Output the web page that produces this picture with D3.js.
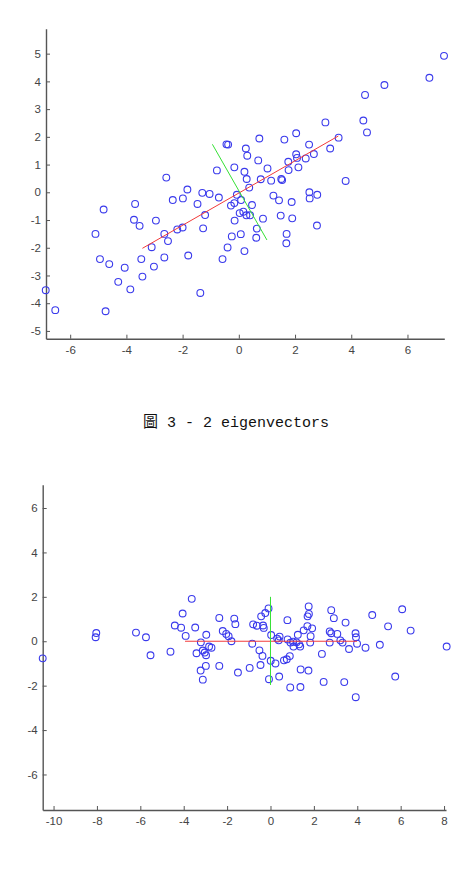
<!DOCTYPE html>
<html>
<head>
<meta charset="utf-8">
<script src="https://cdn.jsdelivr.net/npm/d3@7"></script>
<style>
  html, body { margin: 0; padding: 0; background: #fff; }
  svg { display: block; }
  .axis text { fill: #444; }
  .axis path, .axis line { stroke: #555; }
</style>
</head>
<body>
<div id="chart"></div>
<script>
// ---- Data ----
// top panel: original samples
const origPoints = [
  [7.30,4.92],[6.78,4.13],[5.18,3.87],[4.49,3.51],[3.08,2.52],[4.43,2.59],[4.56,2.16],[3.55,1.97],
  [3.25,1.58],[2.04,2.13],[1.62,1.90],[0.73,1.94],[-0.44,1.73],[-0.38,1.72],[0.25,1.58],[0.30,1.32],
  [0.69,1.15],[2.04,1.37],[2.07,1.24],[1.76,1.10],[2.38,1.22],[2.67,1.38],[2.50,1.72],[2.12,0.90],
  [1.77,0.80],[-0.78,0.79],[-0.16,0.90],[0.20,0.74],[1.02,0.86],[0.28,0.48],[0.78,0.47],[1.15,0.42],
  [1.51,0.48],[1.54,0.44],[3.80,0.41],[0.37,0.17],[-1.83,0.10],[-2.35,-0.28],[-1.99,-0.22],[-1.47,-0.42],
  [-1.30,-0.02],[-1.04,-0.06],[-0.71,-0.19],[-0.07,-0.09],[0.08,-0.28],[-0.28,-0.48],[-0.16,-0.39],[1.23,-0.12],
  [1.43,-0.29],[1.88,-0.35],[2.51,0.00],[2.79,-0.09],[2.52,-0.22],[0.47,-0.46],[0.03,-0.75],[0.16,-0.70],
  [0.27,-0.83],[0.40,-0.83],[-1.20,-0.82],[-0.15,-1.02],[0.86,-0.95],[1.49,-0.84],[1.90,-0.94],[-2.19,-1.34],
  [-2.00,-1.27],[-1.27,-1.30],[0.64,-1.31],[2.78,-1.20],[-0.25,-1.59],[0.07,-1.51],[0.62,-1.64],[1.70,-1.50],
  [1.69,-1.84],[-0.40,-1.99],[0.20,-2.12],[-1.80,-2.28],[-0.58,-2.41],[-2.58,0.53],[-4.81,-0.62],[-3.69,-0.42],
  [-3.73,-0.99],[-3.53,-1.21],[-2.95,-1.02],[-5.10,-1.50],[-2.65,-1.50],[-2.52,-1.76],[-3.10,-1.98],[-4.94,-2.41],
  [-4.61,-2.59],[-3.47,-2.41],[-2.65,-2.35],[-4.06,-2.72],[-3.02,-2.68],[-3.43,-3.04],[-4.29,-3.23],[-3.86,-3.50],
  [-6.87,-3.53],[-6.53,-4.25],[-4.74,-4.29],[-1.37,-3.63]
];
const origRed = [[-3.43,-2.02],[3.54,2.03]];
const origGreen = [[-0.94,1.73],[1.00,-1.72]];

// bottom panel: samples in eigenvector coordinates
const projPoints = [
  [-10.50,-0.77],[-8.03,0.37],[-8.06,0.18],[-6.20,0.39],[-5.74,0.18],[-5.53,-0.63],[-4.61,-0.47],[-3.63,1.91],
  [-4.05,1.25],[-4.41,0.71],[-4.12,0.61],[-3.47,0.62],[-3.91,0.24],[-2.96,0.29],[-2.36,1.05],[-2.20,0.46],
  [-2.04,0.33],[-1.93,0.23],[-1.67,1.02],[-1.62,0.77],[-1.80,0.00],[-0.84,-0.11],[-0.80,0.76],[-0.63,0.70],
  [-0.34,0.71],[-0.31,0.60],[-0.43,1.12],[-0.24,1.27],[-0.09,1.48],[-3.21,-0.05],[-3.12,-0.42],[-3.03,-0.51],
  [-2.83,-0.24],[-2.72,-0.29],[-3.41,-0.54],[-2.97,-0.63],[-2.98,-1.11],[-3.22,-1.32],[-3.12,-1.73],[-2.36,-1.11],
  [-1.50,-1.41],[-0.96,-1.20],[-0.51,-0.41],[-0.37,-0.66],[-0.46,-1.07],[0.01,-0.88],[0.23,-1.00],[-0.07,-1.71],
  [0.03,0.28],[0.31,0.12],[0.38,0.04],[0.42,0.21],[0.40,-1.59],[0.62,-0.86],[0.75,-0.81],[0.89,-0.67],
  [0.78,0.95],[0.79,0.08],[0.92,-0.06],[1.04,-0.02],[1.20,-0.05],[1.32,-0.14],[1.26,0.29],[1.53,0.49],
  [1.70,0.68],[1.71,1.12],[1.77,1.23],[1.76,1.57],[1.92,0.58],[1.85,0.23],[1.83,-0.06],[1.37,-0.24],
  [1.06,-0.24],[0.91,-2.08],[1.38,-2.06],[1.39,-1.27],[1.75,-1.32],[2.37,-0.57],[2.45,-1.83],[2.73,0.44],
  [2.80,0.36],[3.08,0.33],[2.73,-0.06],[2.80,1.40],[2.92,1.04],[3.22,0.04],[3.32,-0.06],[3.46,0.84],
  [3.62,-0.35],[3.40,-1.84],[3.92,0.36],[3.94,0.18],[3.99,-0.11],[3.93,-2.52],[4.38,-0.29],[4.69,1.18],
  [5.04,-0.16],[5.42,0.67],[5.75,-1.59],[6.07,1.44],[6.46,0.48],[8.12,-0.24]
];
const projRed = [[-3.94,0.0],[3.99,0.0]];
const projGreen = [[0.0,2.0],[0.0,-1.97]];

const topXDomain = [-6.86, 7.31], topYDomain = [-5.28, 5.9];
const topXTicks = [-6, -4, -2, 0, 2, 4, 6];
const topYTicks = [-5, -4, -3, -2, -1, 0, 1, 2, 3, 4, 5];
const botXDomain = [-10.5, 8.09], botYDomain = [-7.6, 7.05];
const botXTicks = [-10, -8, -6, -4, -2, 0, 2, 4, 6, 8];
const botYTicks = [-6, -4, -2, 0, 2, 4, 6];

const caption = "圖 3 - 2 eigenvectors";

// ---- Drawing ----
const svg = d3.select("#chart").append("svg")
  .attr("width", 457).attr("height", 872);

function panel(box, xDom, yDom, xTicks, yTicks, pts, red, green) {
  const x = d3.scaleLinear().domain(xDom).range([box.left, box.right]);
  const y = d3.scaleLinear().domain(yDom).range([box.bottom, box.top]);
  const g = svg.append("g");

  const font = g => g.attr("font-family", "'Liberation Sans', Arial, sans-serif")
    .attr("font-size", 11.5);

  // MATLAB style: ticks point into the plot, plain hyphen minus
  g.append("g").attr("class", "axis")
    .attr("transform", `translate(0,${box.bottom})`)
    .call(d3.axisBottom(x).tickValues(xTicks).tickSizeInner(-4).tickSizeOuter(0).tickPadding(7))
    .call(font)
    .call(a => a.select(".domain").attr("stroke-width", 1.4))
    .call(a => a.selectAll(".tick text").text(d => String(d)));

  g.append("g").attr("class", "axis")
    .attr("transform", `translate(${box.left},0)`)
    .call(d3.axisLeft(y).tickValues(yTicks).tickSizeInner(-4).tickSizeOuter(0).tickPadding(5))
    .call(font)
    .call(a => a.select(".domain").attr("stroke-width", 1.4))
    .call(a => a.selectAll(".tick text").text(d => String(d)));

  g.append("g").selectAll("circle")
    .data(pts)
    .join("circle")
    .attr("cx", d => x(d[0]))
    .attr("cy", d => y(d[1]))
    .attr("r", 3.4)
    .attr("fill", "none")
    .attr("stroke", "#3a3aec")
    .attr("stroke-width", 1.1);

  const line = d3.line().x(d => x(d[0])).y(d => y(d[1]));
  g.append("path").attr("d", line(red))
    .attr("fill", "none").attr("stroke", "#f23a3a").attr("stroke-width", 1);
  g.append("path").attr("d", line(green))
    .attr("fill", "none").attr("stroke", "#36e036").attr("stroke-width", 1);
}

panel({ left: 46, right: 444.3, top: 28.7, bottom: 338.7 },
  topXDomain, topYDomain, topXTicks, topYTicks, origPoints, origRed, origGreen);

panel({ left: 42.7, right: 446, top: 484.7, bottom: 810 },
  botXDomain, botYDomain, botXTicks, botYTicks, projPoints, projRed, projGreen);

svg.append("text")
  .attr("x", 143)
  .attr("y", 427)
  .attr("font-family", "'Liberation Mono', 'Noto Sans CJK TC', monospace")
  .attr("font-size", 15)
  .attr("fill", "#111")
  .style("white-space", "pre")
  .text(caption);
</script>
</body>
</html>
